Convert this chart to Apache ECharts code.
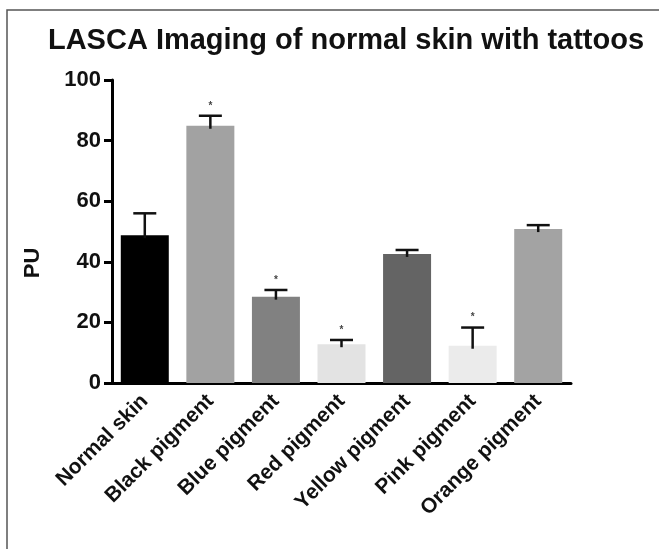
<!DOCTYPE html>
<html>
<head>
<meta charset="utf-8">
<script src="https://cdn.jsdelivr.net/npm/echarts@6/dist/echarts.min.js"></script>
<style>
  html, body { margin: 0; padding: 0; background: #fff; }
  #chart { width: 659px; height: 549px; }
</style>
</head>
<body>
<div id="chart"></div>
<script>
const categories = ['Normal skin', 'Black pigment', 'Blue pigment', 'Red pigment', 'Yellow pigment', 'Pink pigment', 'Orange pigment'];
const means = [48.8, 84.9, 28.5, 12.8, 42.6, 12.3, 50.8];
const errors = [7.2, 3.3, 2.2, 1.4, 1.3, 6.0, 1.3];
const significant = [false, true, true, true, false, true, false];
const barColors = ['#000000', '#a2a2a2', '#818181', '#e3e3e3', '#646464', '#ebebeb', '#a3a3a3'];
const yTicks = [0, 20, 40, 60, 80, 100];

const FONT = '"Liberation Sans", Arial, Helvetica, sans-serif';
const chart = echarts.init(document.getElementById('chart'));

const errData = categories.map((c, i) => [i, means[i], errors[i], significant[i] ? 1 : 0]);

chart.setOption({
  animation: false,
  backgroundColor: '#ffffff',
  title: {
    text: 'LASCA Imaging of normal skin with tattoos',
    left: 341, top: 21, textAlign: 'center',
    textStyle: { fontFamily: FONT, fontWeight: 'bold', fontSize: 29, color: '#111' }
  },
  graphic: [
    { type: 'rect', shape: { x: 7, y: 10, width: 700, height: 600 }, style: { fill: 'none', stroke: '#555', lineWidth: 1.5 }, silent: true },
    { type: 'text', x: 33, y: 263, rotation: Math.PI / 2,
      style: { text: 'PU', font: 'bold 22px ' + FONT, fill: '#111', textAlign: 'center', textVerticalAlign: 'middle' } }
  ],
  grid: { left: 112, right: 88, top: 80, bottom: 166, containLabel: false },
  xAxis: {
    type: 'category', data: categories,
    axisLine: { lineStyle: { color: '#000', width: 3 } },
    axisTick: { alignWithLabel: true, length: 7, lineStyle: { color: '#000', width: 3 } },
    axisLabel: { rotate: 45, margin: 15, fontFamily: FONT, fontWeight: 'bold', fontSize: 21, color: '#111', interval: 0 }
  },
  yAxis: {
    type: 'value', min: 0, max: 100, interval: 20,
    axisLine: { show: true, lineStyle: { color: '#000', width: 3 } },
    axisTick: { show: true, length: 8, lineStyle: { color: '#000', width: 3 } },
    axisLabel: { margin: 11, fontFamily: FONT, fontWeight: 'bold', fontSize: 22, color: '#111',
      formatter: v => yTicks.includes(v) ? String(v) : '' },
    splitLine: { show: false }
  },
  series: [
    {
      type: 'bar', barWidth: 48,
      data: means.map((v, i) => ({ value: v, itemStyle: { color: barColors[i] } })),
      z: 2
    },
    {
      type: 'custom', z: 3,
      data: errData,
      renderItem: function (params, api) {
        const i = api.value(0), v = api.value(1), e = api.value(2), s = api.value(3);
        const base = api.coord([i, v]);
        const top = api.coord([i, v + e]);
        const half = 11.5;
        const style = { stroke: '#111', lineWidth: 2.5 };
        const children = [
          { type: 'line', shape: { x1: top[0], y1: base[1] + 3, x2: top[0], y2: top[1] }, style: style },
          { type: 'line', shape: { x1: top[0] - half, y1: top[1], x2: top[0] + half, y2: top[1] }, style: style }
        ];
        if (s) {
          children.push({ type: 'text', x: top[0], y: top[1] - 10,
            style: { text: '*', font: 'bold 10px ' + FONT, fill: '#444', textAlign: 'center', textVerticalAlign: 'middle' } });
        }
        return { type: 'group', children: children };
      }
    }
  ]
});
</script>
</body>
</html>
